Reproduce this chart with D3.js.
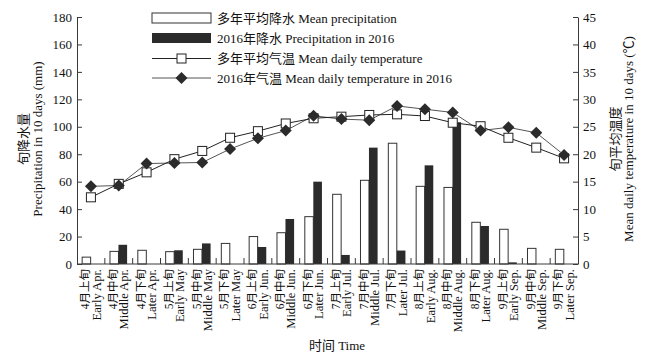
<!DOCTYPE html>
<html><head><meta charset="utf-8">
<script src="https://cdn.jsdelivr.net/npm/d3@7"></script>
<style>
html,body{margin:0;padding:0;background:#fff;}
svg{display:block;font-family:"Liberation Serif","Noto Sans CJK SC",serif;}
</style></head>
<body><svg id="c" width="656" height="361"></svg>
<script>
const categoriesCN = ["4月上旬","4月中旬","4月下旬","5月上旬","5月中旬","5月下旬","6月上旬","6月中旬","6月下旬","7月上旬","7月中旬","7月下旬","8月上旬","8月中旬","8月下旬","9月上旬","9月中旬","9月下旬"];
const categoriesEN = ["Early Apr.","Middle Apr.","Later Apr.","Early May","Middle May","Later May","Early Jun.","Middle Jun.","Later Jun.","Early Jul.","Middle Jul.","Later Jul.","Early Aug.","Middle Aug.","Later Aug.","Early Sep.","Middle Sep.","Later Sep."];
const precipMean = [5, 9.2, 10, 9, 10.7, 15, 20, 22.8, 34.5, 50.8, 61, 88, 56.6, 55.8, 30.4, 25.3, 11.4, 10.7];
const precip2016 = [0, 14, 0, 10, 15, 0, 12.4, 32.8, 60, 6.6, 84.8, 9.8, 71.9, 103.3, 27.7, 1.2, 0, 0];
const tempMean = [12.15, 14.6, 16.7, 19.1, 20.6, 23.0, 24.2, 25.6, 26.55, 26.84, 27.15, 27.27, 26.96, 25.74, 25.1, 23.0, 21.2, 19.25];
const temp2016 = [14.15, 14.3, 18.3, 18.4, 18.5, 20.95, 22.9, 24.3, 27.0, 26.4, 26.2, 28.8, 28.2, 27.6, 24.3, 24.9, 23.9, 19.86];
const precipTicks = [0,20,40,60,80,100,120,140,160,180];
const tempTicks = [0,5,10,15,20,25,30,35,40,45];
const legendLabels = ["多年平均降水 Mean precipitation","2016年降水 Precipitation in 2016","多年平均气温 Mean daily temperature","2016年气温 Mean daily temperature in 2016"];

const svg = d3.select("#c");
const L = 77, R = 578, T = 17, B = 264;
const axisColor = "#3a3a3a";
const fs = 13;

const x = d3.scaleBand().domain(d3.range(categoriesCN.length)).range([L, R]).padding(0);
const yP = d3.scaleLinear().domain([0,180]).range([B, T]);
const yT = d3.scaleLinear().domain([0,45]).range([B, T]);
const bw = x.bandwidth();

// bars
svg.append("g").selectAll("rect").data(precipMean).join("rect")
  .attr("x", (d,i)=>x(i)+bw*0.185).attr("width", bw*0.305)
  .attr("y", d=>yP(d)).attr("height", d=>B-yP(d))
  .attr("fill","#fff").attr("stroke","#333").attr("stroke-width",1);
svg.append("g").selectAll("rect").data(precip2016).join("rect")
  .attr("x", (d,i)=>x(i)+bw*0.49).attr("width", bw*0.31)
  .attr("y", d=>yP(d)).attr("height", d=>B-yP(d))
  .attr("fill","#2b2b2b");

// lines
const cx = i => x(i) + bw/2;
const line = d3.line().x((d,i)=>cx(i)).y(d=>yT(d));
svg.append("path").datum(temp2016).attr("d", line).attr("fill","none").attr("stroke","#555").attr("stroke-width",1);
svg.append("path").datum(tempMean).attr("d", line).attr("fill","none").attr("stroke","#222").attr("stroke-width",1);

const sq = 9, dm = 6;
function square(g, px, py){
  g.append("rect").attr("x",px-sq/2).attr("y",py-sq/2).attr("width",sq).attr("height",sq)
   .attr("fill","#fff").attr("stroke","#222").attr("stroke-width",1);
}
function diamond(g, px, py){
  g.append("path").attr("d",`M${px},${py-dm}L${px+dm},${py}L${px},${py+dm}L${px-dm},${py}Z`)
   .attr("fill","#2b2b2b");
}
const gm = svg.append("g");
tempMean.forEach((d,i)=>square(gm, cx(i), yT(d)));
temp2016.forEach((d,i)=>diamond(gm, cx(i), yT(d)));

// axes
const gl = svg.append("g").attr("transform",`translate(${L},0)`)
  .call(d3.axisLeft(yP).tickValues(precipTicks).tickSizeInner(-5).tickSizeOuter(0).tickPadding(5));
const gr = svg.append("g").attr("transform",`translate(${R},0)`)
  .call(d3.axisRight(yT).tickValues(tempTicks).tickSizeInner(-5).tickSizeOuter(0).tickPadding(5));
[gl,gr].forEach(g=>{
  g.select(".domain").attr("stroke",axisColor);
  g.selectAll(".tick line").attr("stroke",axisColor);
  g.selectAll(".tick text").attr("font-size",fs).attr("font-family","Liberation Serif").attr("fill","#111");
});
// bottom axis line and ticks at band boundaries
svg.append("line").attr("x1",L).attr("x2",R).attr("y1",B).attr("y2",B).attr("stroke",axisColor);
svg.append("g").selectAll("line").data(d3.range(1,categoriesCN.length)).join("line")
  .attr("x1",i=>x(i)).attr("x2",i=>x(i)).attr("y1",B).attr("y2",B-6).attr("stroke",axisColor);

// category labels
const gx = svg.append("g");
categoriesCN.forEach((c,i)=>{
  const g = gx.append("g").attr("transform",`translate(${cx(i)},${B+5}) rotate(-90)`);
  g.append("text").attr("x",0).attr("y",-1.6).attr("text-anchor","end").attr("font-size",11.5).attr("fill","#111").text(c);
  g.append("text").attr("x",0).attr("y",9.6).attr("text-anchor","end").attr("font-size",12.5).attr("fill","#111").text(categoriesEN[i]);
});

// axis titles
function vtitle(px, py, txt){
  svg.append("text").attr("transform",`translate(${px},${py}) rotate(-90)`)
    .attr("text-anchor","middle").attr("font-size",fs).attr("fill","#111").text(txt);
}
vtitle(28, 139, "旬降水量");
vtitle(42, 139, "Precipitation in 10 days (mm)");
vtitle(620, 139, "旬平均温度");
vtitle(633, 139, "Mean daily temperature in 10 days (℃)");
svg.append("text").attr("x",337).attr("y",350).attr("text-anchor","middle").attr("font-size",fs).attr("fill","#111").text("时间 Time");

// legend
const lg = svg.append("g");
const lx0 = 152, lx1 = 211, tx = 217;
const rows = [18, 38, 58.5, 78];
lg.append("rect").attr("x",lx0).attr("y",rows[0]-5).attr("width",lx1-lx0).attr("height",10).attr("fill","#fff").attr("stroke","#333");
lg.append("rect").attr("x",lx0).attr("y",rows[1]-5).attr("width",lx1-lx0).attr("height",10).attr("fill","#2b2b2b");
lg.append("line").attr("x1",lx0).attr("x2",lx1).attr("y1",rows[2]).attr("y2",rows[2]).attr("stroke","#222");
square(lg, (lx0+lx1)/2, rows[2]);
lg.append("line").attr("x1",lx0).attr("x2",lx1).attr("y1",rows[3]).attr("y2",rows[3]).attr("stroke","#555");
diamond(lg, (lx0+lx1)/2, rows[3]);
legendLabels.forEach((t,i)=>{
  lg.append("text").attr("x",tx).attr("y",rows[i]+4.5).attr("font-size",fs).attr("fill","#111").text(t);
});
</script></body></html>
